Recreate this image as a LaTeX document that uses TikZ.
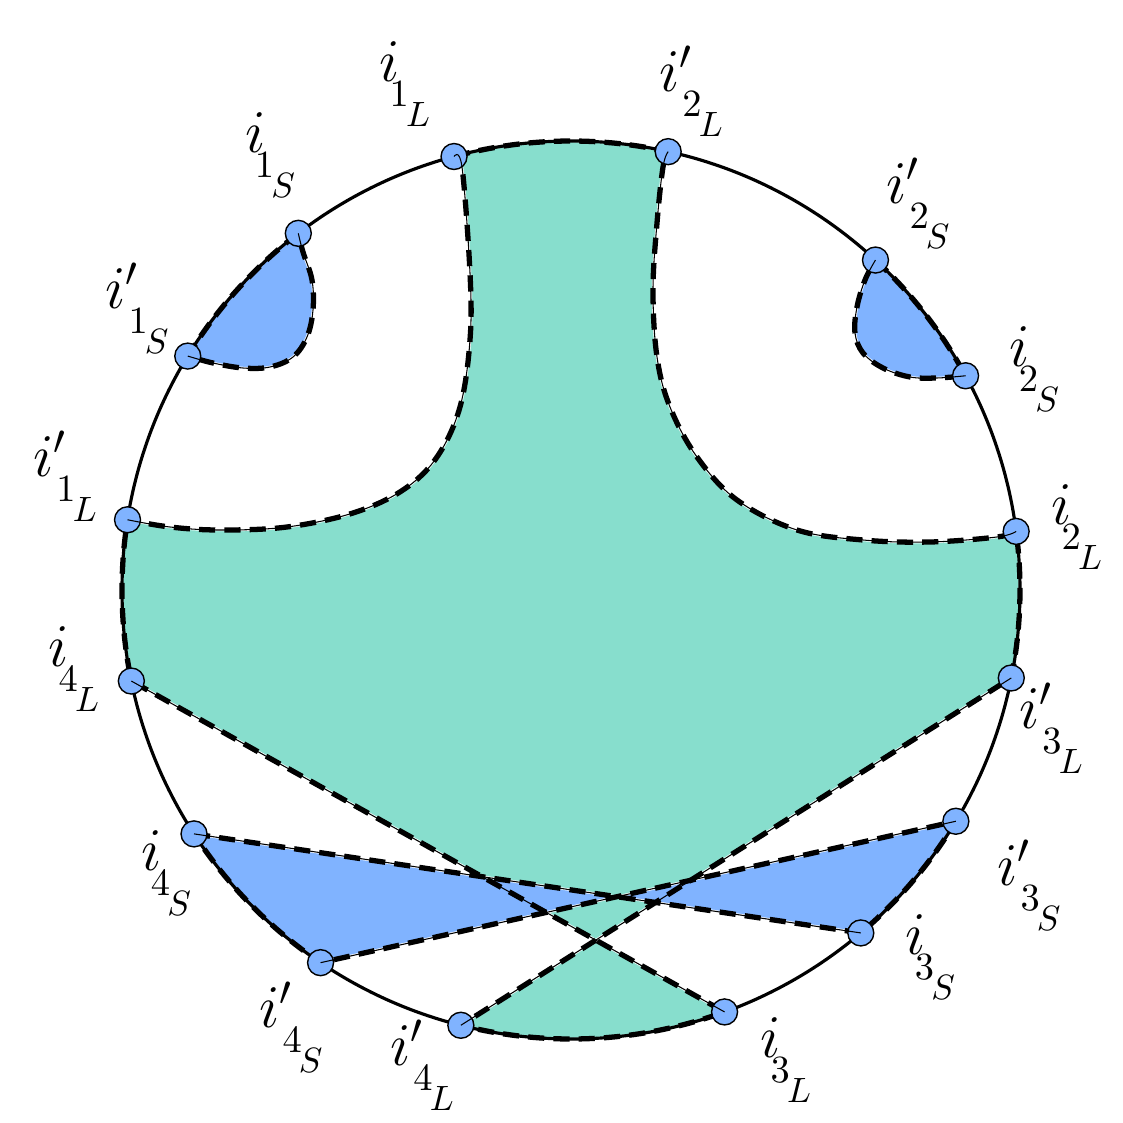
\documentclass[tikz,border=0pt]{standalone}
\definecolor{sheetgreen}{HTML}{87DECD}
\definecolor{dotblue}{HTML}{80B3FF}
\newcommand{\circR}{4.49}
\newcommand{\ilab}[3]{\fontsize{18}{20}\selectfont$#1$\kern-3pt\raisebox{-7.1pt}{\fontsize{10.95}{12}\selectfont$#2$\kern-0.8pt\raisebox{-5.7pt}{\fontsize{10}{11}\selectfont$#3$}}}
% curved edges, each one starts at the current point
\newcommand{\curveR}{-- plot[smooth,tension=0.6] coordinates {(i2Lp) (0.92,4.23) (0.86,3.67) (0.82,3.00) (0.86,2.33) (0.99,1.83) (1.26,1.33) (1.66,0.90) (2.26,0.60) (2.92,0.50) (3.59,0.48) (4.26,0.53) (i2L)}}
\newcommand{\curveL}{-- plot[smooth,tension=0.6] coordinates {(i1Lp) (-4.01,0.63) (-3.51,0.60) (-2.84,0.63) (-2.18,0.77) (-1.68,1.00) (-1.34,1.33) (-1.11,1.83) (-1.01,2.50) (-1.01,3.17) (-1.09,4.23) (i1L)}}
\newcommand{\loopA}{-- plot[smooth,tension=0.6] coordinates {(i1Sp) (-3.58,2.27) (-3.28,2.22) (-3.01,2.23) (-2.78,2.33) (-2.64,2.53) (-2.58,2.80) (-2.59,3.10) (-2.68,3.38) (i1S)}}
\newcommand{\loopB}{-- plot[smooth,tension=0.6] coordinates {(i2S) (3.66,2.12) (3.39,2.13) (3.12,2.22) (2.92,2.37) (2.84,2.57) (2.86,2.83) (2.94,3.10) (i2Sp)}}
% whole regions
\newcommand{\greenpath}{(i1L) arc[start angle=105.1, end angle=77.5, radius=\circR] \curveR
    arc[start angle=7.5, end angle=-11.3, radius=\circR] -- (i4Lp)
    arc[start angle=255.8, end angle=290, radius=\circR] -- (i4L)
    arc[start angle=191.7, end angle=171, radius=\circR] \curveL -- cycle}
\newcommand{\tiepath}{(i4S) -- (i3S) arc[start angle=310.2, end angle=329, radius=\circR]
    -- (i4Sp) arc[start angle=236.1, end angle=212.9, radius=\circR] -- cycle}
\newcommand{\loopApath}{(i1S) arc[start angle=127.4, end angle=148.6, radius=\circR] \loopA -- cycle}
\newcommand{\loopBpath}{(i2Sp) arc[start angle=47.3, end angle=28.5, radius=\circR] \loopB -- cycle}
\begin{document}
\begin{tikzpicture}[
    seam/.style={black, line width=1.5pt, dash pattern=on 4.6pt off 2.6pt},
    hair/.style={black, line width=0.3pt},
    rim/.style={draw=white, line width=0.7pt},
    dot/.style={fill=dotblue, draw=black, line width=0.4pt},
    lbl/.style={inner sep=0pt}
]
    \useasboundingbox (-5.71,-5.33) rectangle (5.52,5.90);

    \coordinate (i1L) at (105.1:\circR);
    \coordinate (i2Lp) at (77.5:\circR);
    \coordinate (i1S) at (127.4:\circR);
    \coordinate (i1Sp) at (148.6:\circR);
    \coordinate (i2Sp) at (47.3:\circR);
    \coordinate (i2S) at (28.5:\circR);
    \coordinate (i1Lp) at (171:\circR);
    \coordinate (i2L) at (7.5:\circR);
    \coordinate (i4L) at (191.7:\circR);
    \coordinate (i3Lp) at (-11.3:\circR);
    \coordinate (i4S) at (212.9:\circR);
    \coordinate (i3Sp) at (-31:\circR);
    \coordinate (i4Sp) at (236.1:\circR);
    \coordinate (i3S) at (-49.8:\circR);
    \coordinate (i4Lp) at (255.8:\circR);
    \coordinate (i3L) at (-70:\circR);

    % regions
    \fill[sheetgreen, rim] \greenpath;
    \fill[dotblue, rim] \tiepath;
    \fill[dotblue, rim] \loopApath;
    \fill[dotblue, rim] \loopBpath;

    \draw[black, line width=0.9pt] (0,0) circle (\circR);

    \draw[seam] \greenpath;
    \draw[seam] \tiepath;
    \draw[seam] \loopApath;
    \draw[seam] \loopBpath;

    \filldraw[dot] (i1L) circle (0.13);
    \filldraw[dot] (i2Lp) circle (0.13);
    \filldraw[dot] (i1S) circle (0.13);
    \filldraw[dot] (i1Sp) circle (0.13);
    \filldraw[dot] (i2Sp) circle (0.13);
    \filldraw[dot] (i2S) circle (0.13);
    \filldraw[dot] (i1Lp) circle (0.13);
    \filldraw[dot] (i2L) circle (0.13);
    \filldraw[dot] (i4L) circle (0.13);
    \filldraw[dot] (i3Lp) circle (0.13);
    \filldraw[dot] (i4S) circle (0.13);
    \filldraw[dot] (i3Sp) circle (0.13);
    \filldraw[dot] (i4Sp) circle (0.13);
    \filldraw[dot] (i3S) circle (0.13);
    \filldraw[dot] (i4Lp) circle (0.13);
    \filldraw[dot] (i3L) circle (0.13);

    \draw[hair] (i2Lp) \curveR;
    \draw[hair] (i1Lp) \curveL;
    \draw[hair] (i1Sp) \loopA;
    \draw[hair] (i2S) \loopB;
    \draw[hair] (i3Lp) -- (i4Lp);
    \draw[hair] (i3L) -- (i4L);
    \draw[hair] (i4S) -- (i3S);
    \draw[hair] (i3Sp) -- (i4Sp);

    \node[lbl] (t1L) at (-1.66,5.06) {\ilab{i}{1}{L}};
    \node[lbl] (t1S) at (-3.01,4.35) {\ilab{i}{1}{S}};
    \node[lbl] (t1Sp) at (-4.34,2.82) {\ilab{i'}{1}{S}};
    \node[lbl] (t1Lp) at (-5.06,1.14) {\ilab{i'}{1}{L}};
    \node[lbl] (t4L) at (-4.97,-0.79) {\ilab{i}{4}{L}};
    \node[lbl] (t4S) at (-4.05,-2.83) {\ilab{i}{4}{S}};
    \node[lbl] (t4Sp) at (-2.80,-4.37) {\ilab{i'}{4}{S}};
    \node[lbl] (t4Lp) at (-1.49,-4.75) {\ilab{i'}{4}{L}};
    \node[lbl] (t3L) at (2.15,-4.70) {\ilab{i}{3}{L}};
    \node[lbl] (t3S) at (3.59,-3.67) {\ilab{i}{3}{S}};
    \node[lbl] (t3Sp) at (4.58,-2.95) {\ilab{i'}{3}{S}};
    \node[lbl] (t3Lp) at (4.80,-1.38) {\ilab{i'}{3}{L}};
    \node[lbl] (t2L) at (5.06,0.63) {\ilab{i}{2}{L}};
    \node[lbl] (t2S) at (4.63,2.21) {\ilab{i}{2}{S}};
    \node[lbl] (t2Sp) at (3.47,3.87) {\ilab{i'}{2}{S}};
    \node[lbl] (t2Lp) at (1.20,4.99) {\ilab{i'}{2}{L}};
\end{tikzpicture}
\end{document}
